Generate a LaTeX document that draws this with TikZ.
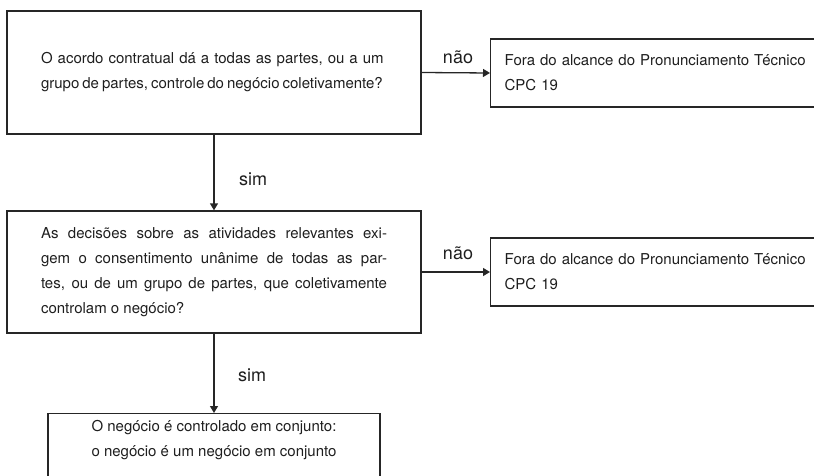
\documentclass[tikz,border=0pt]{standalone}
\usepackage{fontspec}
\setmainfont{TeX Gyre Heros}
\usetikzlibrary{arrows.meta}
\definecolor{ink}{HTML}{1E1E1E}
\definecolor{rule}{HTML}{262626}
\tikzset{
  box/.style={draw=rule, line width=1.3pt, inner sep=0pt, font=\fontsize{15}{25}\selectfont, text=ink},
  outbox/.style={box, anchor=west, minimum height=68pt, inner xsep=14pt, text width=320pt, align=left},
  lbl/.style={font=\fontsize{18}{20}\selectfont, text=ink, inner sep=0pt},
  conn/.style={draw=rule, line width=1.3pt, -{Triangle[length=7pt,width=8pt]}}
}
\begin{document}
\begin{tikzpicture}[x=1pt,y=-1pt]
\path[use as bounding box] (0,0) rectangle (814,476);
\clip (0,0) rectangle (814,476);
\node[box, minimum width=414pt, minimum height=123pt, text width=346pt, align=left] (q1) at (214,72.5)
  {O acordo contratual dá a todas as partes, ou a um\\{\spaceskip=0.2em plus 0.05em minus 0.05em\mbox{grupo de partes, controle do negócio coletivamente?}}};
\node[box, minimum width=414pt, minimum height=122pt, text width=346pt, align=justify] (q2) at (214,272)
  {As decisões sobre as atividades relevantes exi-\linebreak gem o consentimento unânime de todas as par-\linebreak tes, ou de um grupo de partes, que coletivamente\linebreak controlam o negócio?};
\node[outbox] (o1) at (490,73) {Fora do alcance do Pronunciamento Técnico\\CPC 19};
\node[outbox] (o2) at (490,272) {Fora do alcance do Pronunciamento Técnico\\CPC 19};
\node[box, anchor=north, minimum width=332pt, minimum height=82pt] (r) at (214,413) {};
\node[font=\fontsize{15}{25}\selectfont, text=ink, align=center, inner sep=0pt] (rt) at (214,440.5)
  {O negócio é controlado em conjunto:\\o negócio é um negócio em conjunto};
\draw[conn] (q1.east) -- (o1.west);
\draw[conn] (q2.east) -- (o2.west);
\draw[conn] (q1.south) -- (q2.north);
\draw[conn] (q2.south) -- (r.north);
\node[lbl] (n1) at (458,57) {não};
\node[lbl] (n2) at (458,253) {não};
\node[lbl] (s1) at (253,179) {sim};
\node[lbl] (s2) at (252,375) {sim};
\end{tikzpicture}
\end{document}
